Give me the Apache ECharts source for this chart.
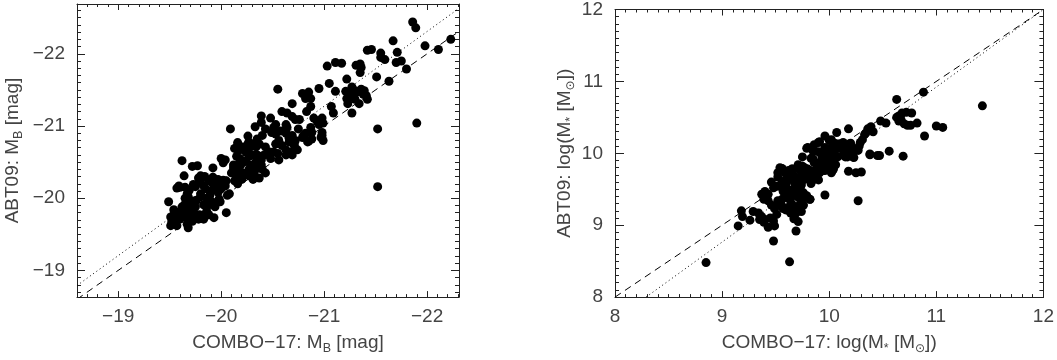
<!DOCTYPE html>
<html><head><meta charset="utf-8">
<script src="https://cdn.jsdelivr.net/npm/echarts@6/dist/echarts.min.js"></script>
<style>html,body{margin:0;padding:0;background:#fff}#c{width:1057px;height:360px}</style>
</head><body><div id="c"></div>
<script>
// ---- data: left panel, absolute B magnitudes (COMBO-17 vs ABT09) ----
const magPoints = [
[-19.49,-19.95],[-19.51,-19.74],[-19.52,-19.67],[-19.51,-19.62],[-19.55,-19.66],[-19.57,-19.71],[-19.54,-19.77],[-19.57,-19.80],
[-19.62,-20.52],[-19.64,-20.31],[-19.60,-20.15],[-19.57,-20.14],[-19.65,-20.15],[-19.69,-20.11],[-19.67,-20.06],
[-19.72,-20.44],[-19.77,-20.45],[-19.75,-20.16],[-19.78,-20.28],[-19.68,-20.02],[-19.73,-19.96],[-19.65,-19.92],[-19.62,-19.88],
[-19.70,-19.86],[-19.66,-19.79],[-19.64,-19.76],[-19.68,-19.68],[-19.68,-19.59],[-19.75,-19.88],[-19.74,-19.79],[-19.79,-19.77],
[-19.80,-20.06],[-19.83,-20.17],[-19.85,-20.13],[-19.86,-20.00],[-19.83,-19.91],[-19.89,-20.04],[-19.92,-20.42],[-19.92,-20.29],
[-19.88,-19.77],[-19.93,-19.73],[-19.94,-19.91],[-19.97,-20.26],[-19.96,-20.11],[-19.98,-19.99],[-20.00,-20.22],[-20.02,-20.49],
[-20.00,-20.55],[-20.04,-20.53],[-20.02,-20.25],[-20.04,-20.17],[-20.06,-20.04],[-20.05,-19.80],
[-19.59,-20.17],[-19.73,-20.19],[-19.80,-20.22],[-19.80,-20.31],
[-19.84,-20.30],[-19.88,-20.24],[-19.91,-20.22],[-19.99,-20.20],[-20.05,-20.24],[-19.94,-20.15],[-19.91,-20.11],
[-19.97,-20.08],[-20.00,-20.13],[-20.08,-20.06],
[-19.65,-20.00],[-19.72,-19.95],[-19.76,-19.97],[-19.80,-20.02],[-19.91,-19.95],
[-19.88,-19.91],[-19.94,-19.88],[-19.86,-19.82],[-19.99,-19.95],
[-19.54,-19.84],[-19.56,-19.73],[-19.60,-19.71],[-19.62,-19.82],
[-19.57,-19.62],[-19.67,-19.64],[-19.72,-19.68],[-19.73,-19.75],[-19.84,-19.77],[-19.78,-19.71],[-19.83,-19.71],
[-20.13,-20.69],[-20.16,-20.73],[-20.18,-20.67],[-20.21,-20.71],[-20.24,-20.64],[-20.27,-20.69],[-20.31,-20.75],[-20.26,-20.75],
[-20.15,-20.58],[-20.19,-20.53],[-20.18,-20.49],[-20.23,-20.51],[-20.27,-20.58],[-20.31,-20.60],[-20.34,-20.51],[-20.37,-20.58],
[-20.31,-20.44],[-20.35,-20.42],[-20.39,-20.46],
[-20.12,-20.42],[-20.10,-20.35],[-20.15,-20.31],[-20.18,-20.35],[-20.20,-20.26],[-20.24,-20.33],[-20.27,-20.31],[-20.13,-20.24],[-20.16,-20.20],
[-20.09,-20.96],[-20.33,-20.99],[-20.39,-21.05],[-20.39,-21.14],[-20.48,-21.11],
[-20.26,-20.86],[-20.27,-20.78],[-20.16,-20.77],[-20.35,-20.82],[-20.37,-20.75],[-20.34,-20.71],
[-20.43,-20.96],[-20.40,-20.87],[-20.51,-20.98],[-20.49,-20.91],[-20.53,-20.89],[-20.58,-20.93],[-20.53,-21.02],
[-20.63,-21.02],[-20.64,-20.98],
[-20.63,-20.90],[-20.66,-20.83],[-20.69,-20.87],[-20.72,-20.80],[-20.66,-20.78],[-20.71,-20.73],[-20.74,-20.67],[-20.63,-20.67],
[-20.69,-20.64],[-20.69,-20.60],
[-20.79,-20.84],[-20.82,-20.90],[-20.85,-20.79],[-20.88,-20.82],[-20.98,-20.87],[-20.99,-20.80],[-20.87,-20.98],
[-20.56,-20.80],[-20.59,-20.73],[-20.53,-20.75],[-20.51,-20.64],
[-20.43,-20.71],[-20.47,-20.64],[-20.42,-20.60],[-20.48,-20.55],[-20.55,-20.62],[-20.56,-20.53],[-20.63,-20.60],
[-20.39,-20.53],[-20.35,-20.60],
[-20.24,-20.51],[-20.29,-20.46],[-20.32,-20.42],[-20.27,-20.40],[-20.32,-20.35],[-20.37,-20.28],[-20.31,-20.26],
[-20.18,-20.55],[-20.19,-20.46],[-20.15,-20.40],[-20.21,-20.35],[-20.16,-20.29],[-20.12,-20.46],
[-20.40,-20.40],[-20.43,-20.35],
[-20.55,-21.51],[-20.79,-21.45],[-20.85,-21.47],[-20.82,-21.38],[-20.87,-21.38],[-20.95,-21.52],[-21.05,-21.59],[-21.11,-21.48],
[-20.69,-21.31],[-20.59,-21.20],[-20.64,-21.18],[-20.69,-21.13],[-20.72,-21.09],[-20.76,-21.09],[-20.83,-21.20],[-20.87,-21.27],
[-21.07,-21.27],[-21.09,-21.18],[-20.90,-21.11],[-20.93,-21.07],[-20.98,-21.11],[-20.99,-21.04],[-20.95,-21.02],
[-20.98,-20.91],[-20.97,-20.84],[-20.88,-20.91],[-20.80,-20.87],[-20.84,-20.78],[-20.75,-20.96],
[-21.03,-21.83],[-21.11,-21.88],[-21.17,-21.87],[-21.22,-21.65],[-21.27,-21.54],[-21.21,-21.48],[-21.25,-21.46],[-21.29,-21.45],
[-21.32,-21.47],[-21.36,-21.51],[-21.39,-21.49],[-21.22,-21.38],[-21.27,-21.40],[-21.30,-21.37],[-21.34,-21.31],[-21.41,-21.42],
[-21.42,-21.37],[-21.27,-21.18],[-21.31,-21.84],[-21.35,-21.86],[-21.36,-21.81],[-21.35,-21.74],[-21.42,-22.05],[-21.46,-22.06],
[-21.51,-21.68],[-21.55,-22.01],[-21.55,-21.95],[-21.59,-21.92],[-21.63,-21.62],[-21.67,-22.18],[-21.70,-21.88],[-21.75,-21.90],
[-21.71,-22.02],[-21.80,-21.79],[-21.86,-22.44],[-21.89,-22.36],[-21.98,-22.11],[-22.11,-22.06],[-22.23,-22.20],
[-21.30,-21.49],[-21.38,-21.44],[-21.23,-21.31],
[-21.52,-20.96],[-21.90,-21.04],[-21.52,-20.16]
];
const magOneToOne = [[-18.6,-18.6],[-22.31,-22.31]];
const magRelation = [[-18.6,-18.79],[-22.31,-22.63]];

// ---- data: right panel, stellar masses ----
const massPoints = [
[8.85,8.48],[9.63,8.49],[9.48,8.78],[9.69,8.92],[9.15,8.99],[9.19,9.12],[9.18,9.20],[9.26,9.07],
[9.29,9.19],[9.34,9.17],[9.37,9.12],[9.40,9.08],[9.35,9.08],[9.39,9.04],[9.43,8.97],[9.45,9.10],[9.48,9.06],[9.49,8.99],[9.51,9.15],[9.67,9.09],[9.71,9.05],
[9.39,9.36],[9.37,9.43],[9.40,9.47],[9.43,9.34],[9.46,9.28],[9.49,9.23],[9.52,9.34],[9.54,9.28],[9.57,9.23],[9.62,9.25],[9.65,9.30],[9.68,9.23],
[9.46,9.60],[9.48,9.52],[9.51,9.54],[9.56,9.60],[9.59,9.56],[9.62,9.49],[9.65,9.43],[9.54,9.80],[9.59,9.73],[9.62,9.76],[9.66,9.71],
[9.57,9.47],[9.60,9.39],[9.63,9.36],[9.66,9.49],[9.68,9.43],[9.43,9.43],[9.68,9.58],
[9.52,9.73],[9.56,9.78],[9.60,9.65],[9.64,9.68],[9.65,9.78],[9.66,9.63],[9.71,9.49],[9.74,9.56],[9.71,9.65],[9.76,9.63],[9.74,9.71],[9.77,9.69],[9.72,9.78],
[9.75,9.82],[9.75,9.95],[9.80,10.08],[9.73,9.39],[9.74,9.34],[9.76,9.28],[9.82,9.36],[9.77,9.39],[9.60,9.21],[9.64,9.17],
[9.96,9.42],[9.80,9.65],[9.85,9.63],[9.86,9.69],[9.83,9.73],[9.80,9.78],
[9.86,9.87],[9.85,9.92],[9.90,9.84],[9.93,9.91],[9.88,9.78],[9.93,9.80],[9.96,9.84],[9.94,9.76],[9.91,9.73],[9.99,9.78],[10.02,9.73],[10.04,9.78],
[9.86,10.12],[9.90,10.15],[9.85,10.03],[9.90,10.02],[9.93,9.97],[9.96,10.04],[9.99,9.95],[10.02,9.91],[9.97,9.89],
[9.96,10.24],[10.00,10.18],[10.02,10.08],[10.05,10.02],[10.08,10.13],[10.06,9.95],[10.03,9.87],
[10.07,10.29],[10.10,10.13],[10.12,10.06],[10.14,9.99],[10.16,10.04],[10.19,10.08],[10.17,9.95],[10.22,9.97],[10.15,9.95],
[10.18,10.34],[10.20,10.14],[10.23,9.94],[10.18,9.75],
[10.27,10.04],[10.28,10.10],[10.29,10.15],[10.31,10.19],[10.33,10.26],[10.34,10.28],[10.36,10.34],[10.39,10.37],[10.41,10.30],
[10.25,9.73],[10.30,9.74],[10.27,9.34],
[10.38,9.98],[10.47,9.97],[10.56,10.03],
[10.48,10.45],[10.53,10.42],[10.63,10.75],
[10.65,10.52],[10.68,10.56],[10.72,10.57],[10.77,10.56],[10.65,10.45],[10.70,10.41],[10.73,10.39],[10.76,10.39],[10.82,10.42],[10.63,10.50],[10.67,10.47],
[10.88,10.85],[10.69,9.96],[10.89,10.24],[11.00,10.38],[11.06,10.36],[11.43,10.66],
[9.91,10.16],[9.79,10.07],[10.02,10.19],[10.05,10.14],[10.10,10.08],[10.13,10.15],[10.19,10.13],[10.22,10.07],
[9.96,10.08],[9.99,10.02],[10.03,10.00],[10.08,9.95],[10.22,9.95],[10.38,9.99],[10.45,9.97],
[9.71,9.84],[9.66,9.78],[9.59,9.74],[9.56,9.79],[9.52,9.67],
[9.83,9.93],[9.88,9.86],[9.93,9.82],[9.96,9.76],[10.00,9.80],[10.03,9.76],[10.06,9.84],[9.99,9.91],
[9.77,9.80],[9.82,9.76],[9.74,9.69],[9.80,9.67],[9.86,9.69],[9.90,9.63],[9.83,9.58],
[9.65,9.65],[9.69,9.60],[9.60,9.58],[9.56,9.52],[9.62,9.49],[9.68,9.52],[9.73,9.52],[9.76,9.45],[9.71,9.39],[9.66,9.41],[9.60,9.39],[9.56,9.36],[9.52,9.30],
[9.57,9.25],[9.62,9.21],[9.68,9.25],[9.73,9.30],[9.79,9.41],[9.82,9.36],[9.74,9.19],[9.69,9.17]
];
const massOneToOne = [[8,8],[12,12]];
const massRelation = [[8.29,8],[12,12]];

// ---- axes: ranges and tick labels ----
const magRangeX = [-22.31, -18.6];
const magRangeY = [-22.69, -18.63];
const massRange = [8, 12];
const magTicks = [-19, -20, -21, -22];
const massTicks = [8, 9, 10, 11, 12];

function minorTicks(lo, hi) {
  const a = [];
  for (let v = Math.ceil(lo * 10 - 1e-6); v <= Math.floor(hi * 10 + 1e-6); v++) a.push(v / 10);
  return a;
}
const fmt = v => (v < 0 ? '\u2212' + Math.abs(v) : String(v));
const FONT = 'Liberation Sans';
const TXT = '#444';
const LINE = '#222';
const FS = 19;
const richStyle = {
  t: { fontSize: FS, lineHeight: 24, color: TXT, fontFamily: FONT },
  sub: { fontSize: 12.5, lineHeight: 12, verticalAlign: 'bottom', color: TXT, fontFamily: FONT },
  subsym: { fontSize: 12, lineHeight: 12, verticalAlign: 'bottom', color: TXT, fontFamily: 'DejaVu Sans' }
};

function axis(grid, pos, range, inverse, ticks, len, opts) {
  opts = opts || {};
  const a = {
    type: 'value', gridIndex: grid, position: pos, min: range[0], max: range[1], inverse: inverse,
    splitLine: { show: false },
    axisLine: { show: !!opts.line, onZero: false, lineStyle: { color: LINE, width: 1 } },
    axisTick: { show: true, inside: true, length: len, customValues: ticks, lineStyle: { color: LINE, width: 1 } },
    axisLabel: { show: !!opts.label },
    axisPointer: { show: false }
  };
  if (opts.label) {
    a.axisLabel = { show: true, customValues: ticks, formatter: fmt, color: TXT, fontFamily: FONT, fontSize: FS,
      margin: opts.margin, hideOverlap: false };
  }
  if (opts.name) {
    a.name = opts.name;
    a.nameLocation = 'middle';
    a.nameGap = opts.nameGap;
    if (opts.nameRotate !== undefined) a.nameRotate = opts.nameRotate;
    a.nameTextStyle = { color: TXT, fontFamily: FONT, fontSize: FS, lineHeight: 24, rich: richStyle,
      padding: opts.namePadding || 0 };
  }
  return a;
}

const magMinorX = minorTicks(magRangeX[0], magRangeX[1]);
const magMinorY = minorTicks(magRangeY[0], magRangeY[1]);
const massMinor = minorTicks(massRange[0], massRange[1]);

const xAxes = [
  axis(0, 'bottom', magRangeX, true, magTicks, 6, { line: true, label: true, margin: 10,
    name: '{t|COMBO\u221217: M}{sub|B}{t| [mag]}', nameGap: 27, namePadding: [0, 0, 0, 40] }),
  axis(0, 'bottom', magRangeX, true, magMinorX, 3),
  axis(0, 'top', magRangeX, true, magTicks, 6, { line: true }),
  axis(0, 'top', magRangeX, true, magMinorX, 3),
  axis(1, 'bottom', massRange, false, massTicks, 6, { line: true, label: true, margin: 10,
    name: '{t|COMBO\u221217: log(M}{sub|*}{t| [M}{subsym|\u2299}{t|])}', nameGap: 27 }),
  axis(1, 'bottom', massRange, false, massMinor, 3),
  axis(1, 'top', massRange, false, massTicks, 6, { line: true }),
  axis(1, 'top', massRange, false, massMinor, 3)
];
const yAxes = [
  axis(0, 'left', magRangeY, true, magTicks, 8, { line: true, label: true, margin: 12,
    name: '{t|ABT09: M}{sub|B}{t| [mag]}', nameGap: 52, nameRotate: 90 }),
  axis(0, 'left', magRangeY, true, magMinorY, 4),
  axis(0, 'right', magRangeY, true, magTicks, 8, { line: true }),
  axis(0, 'right', magRangeY, true, magMinorY, 4),
  axis(1, 'left', massRange, false, massTicks, 9, { line: true, label: true, margin: 12,
    name: '{t|ABT09: log(M}{sub|*}{t| [M}{subsym|\u2299}{t|])}', nameGap: 38, nameRotate: 90 }),
  axis(1, 'left', massRange, false, massMinor, 4),
  axis(1, 'right', massRange, false, massTicks, 9, { line: true }),
  axis(1, 'right', massRange, false, massMinor, 4)
];

function lineSeries(xi, data, dash) {
  return { type: 'line', xAxisIndex: xi, yAxisIndex: xi, data: data, symbol: 'none', silent: true,
    lineStyle: { color: '#000', width: 1, type: dash }, z: 1 };
}
function scatterSeries(xi, data) {
  return { type: 'scatter', xAxisIndex: xi, yAxisIndex: xi, data: data, symbol: 'circle', symbolSize: 9,
    itemStyle: { color: '#000', opacity: 1 }, silent: true, z: 3 };
}

const chart = echarts.init(document.getElementById('c'), null, { renderer: 'canvas' });
chart.setOption({
  animation: false,
  backgroundColor: '#fff',
  grid: [
    { left: 72, right: 598, top: 4, bottom: 53 },
    { left: 615, right: 10, top: 1, bottom: 54 }
  ],
  xAxis: xAxes,
  yAxis: yAxes,
  series: [
    lineSeries(0, magOneToOne, [7, 5]),
    lineSeries(0, magRelation, [1, 3]),
    scatterSeries(0, magPoints),
    lineSeries(4, massOneToOne, [7, 5]),
    lineSeries(4, massRelation, [1, 3]),
    scatterSeries(4, massPoints)
  ]
});
</script>
</body></html>
